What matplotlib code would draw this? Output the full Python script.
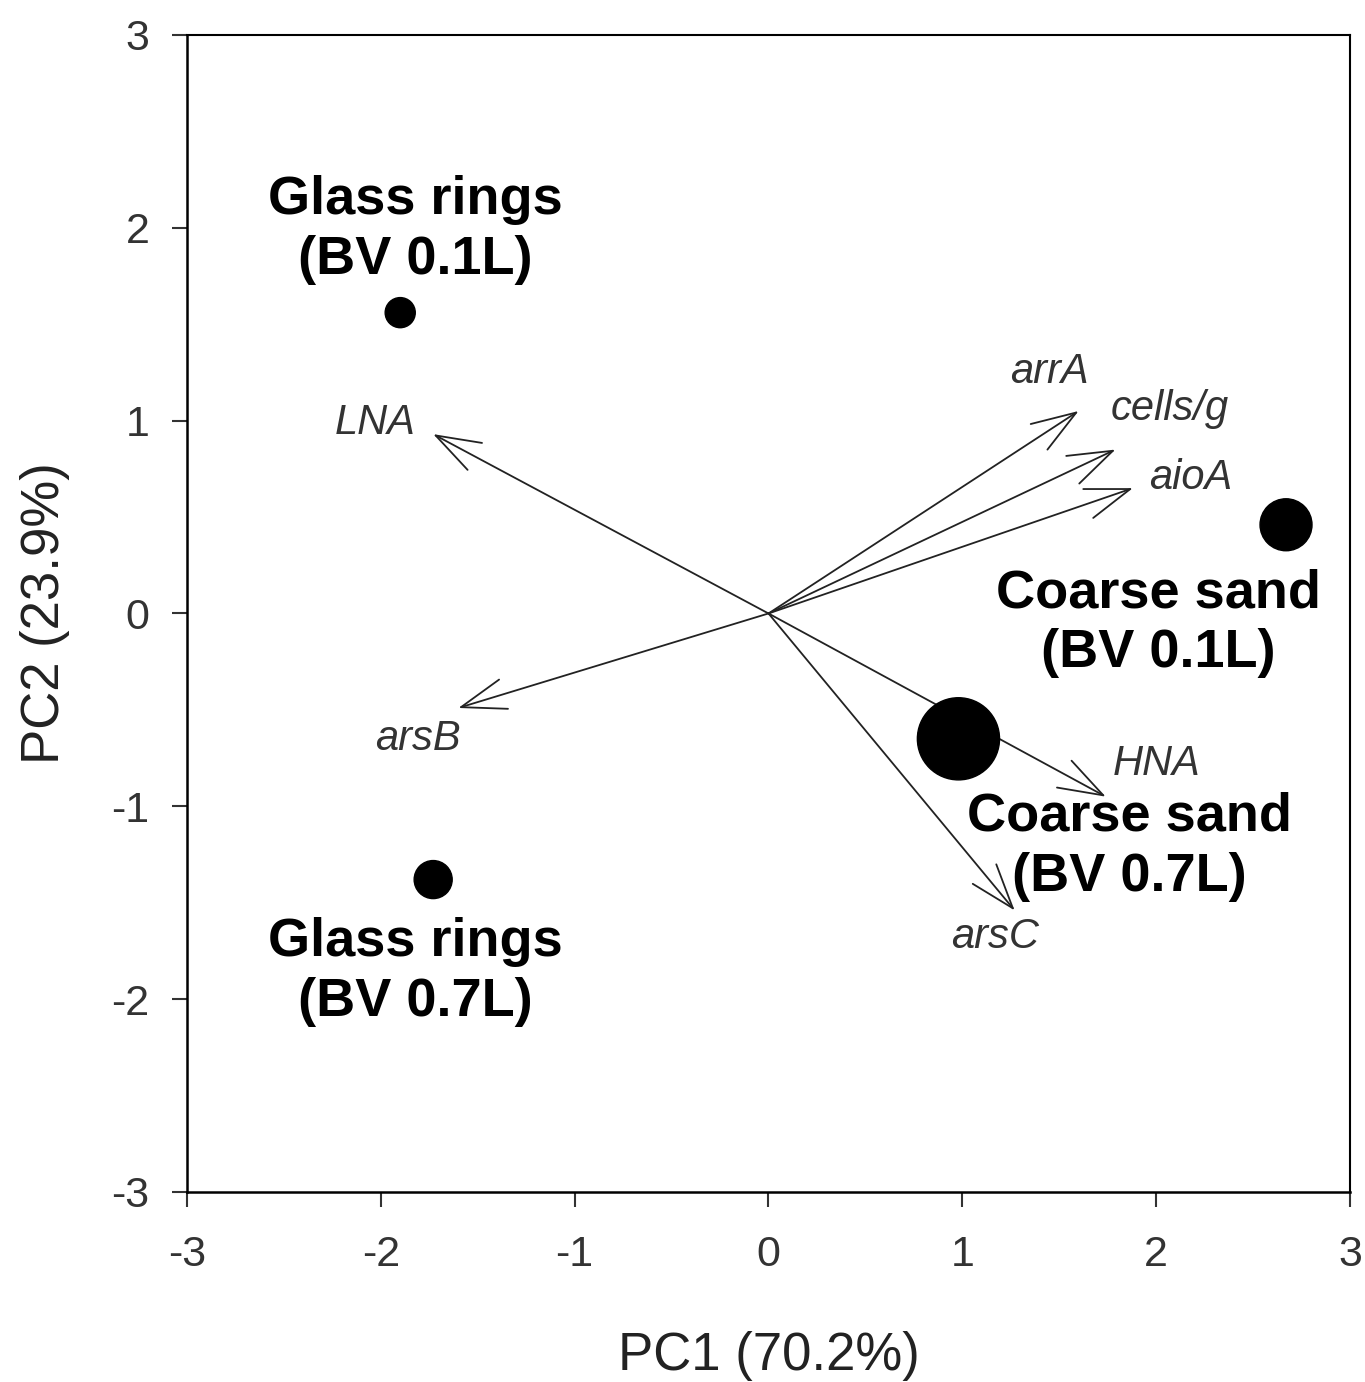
import matplotlib

matplotlib.use("Agg")
import matplotlib.pyplot as plt  # noqa: E402

# sample scores (PC1, PC2) and bubble sizes
samples = ["Glass rings\n(BV 0.1L)", "Glass rings\n(BV 0.7L)",
           "Coarse sand\n(BV 0.1L)", "Coarse sand\n(BV 0.7L)"]
pc1 = [-1.90, -1.73, 2.67, 0.98]
pc2 = [1.56, -1.38, 0.46, -0.65]
bubble = [470, 750, 1400, 3500]
sample_lab_x = [-1.82, -1.82, 2.01, 1.86]
sample_lab_y = [1.99, -1.86, -0.05, -1.21]

# variable loadings
variables = ["LNA", "arsB", "arrA", "cells/g", "aioA", "HNA", "arsC"]
load1 = [-1.73, -1.60, 1.60, 1.79, 1.88, 1.74, 1.27]
load2 = [0.93, -0.49, 1.05, 0.85, 0.65, -0.95, -1.54]
var_lab_x = [-2.03, -1.81, 1.45, 2.07, 2.18, 2.00, 1.17]
var_lab_y = [0.99, -0.65, 1.25, 1.06, 0.70, -0.78, -1.68]

plt.rcParams["font.family"] = ["Liberation Sans", "DejaVu Sans"]
plt.rcParams["axes.unicode_minus"] = False

fig = plt.figure(figsize=(13.65, 13.82), dpi=100)
ax = fig.add_axes([0.137, 0.1375, 0.852, 0.8372])

for name, x, y, lx, ly in zip(variables, load1, load2, var_lab_x, var_lab_y):
    ax.annotate("", xy=(x, y), xytext=(0, 0),
                arrowprops=dict(arrowstyle="->,head_length=1.6,head_width=0.55",
                                mutation_scale=20, lw=1.3, color="#222222",
                                shrinkA=0, shrinkB=0))
    ax.text(lx, ly, name, style="italic", fontsize=30, color="#333333",
            ha="center", va="center")

ax.scatter(pc1, pc2, s=bubble, color="black", zorder=3)

for name, lx, ly in zip(samples, sample_lab_x, sample_lab_y):
    ax.text(lx, ly, name, fontsize=39, fontweight="bold", ha="center",
            va="center", linespacing=1.25, zorder=4)

ax.set_xlim(-3, 3)
ax.set_ylim(-3, 3)
ax.set_xticks(range(-3, 4))
ax.set_yticks(range(-3, 4))
ax.tick_params(direction="out", length=11, width=1.5, labelsize=31,
               colors="#333333")
ax.tick_params(axis="x", pad=20)
ax.tick_params(axis="y", pad=16)
for side in ["left", "bottom"]:
    ax.spines[side].set_linewidth(1.8)
for side in ["top", "right"]:
    ax.spines[side].set_linewidth(1.5)

ax.set_xlabel("PC1 (70.2%)", fontsize=38, labelpad=40, color="#222222")
ax.set_ylabel("PC2 (23.9%)", fontsize=38, labelpad=30, color="#222222")

fig.savefig("out.png", dpi=100)
